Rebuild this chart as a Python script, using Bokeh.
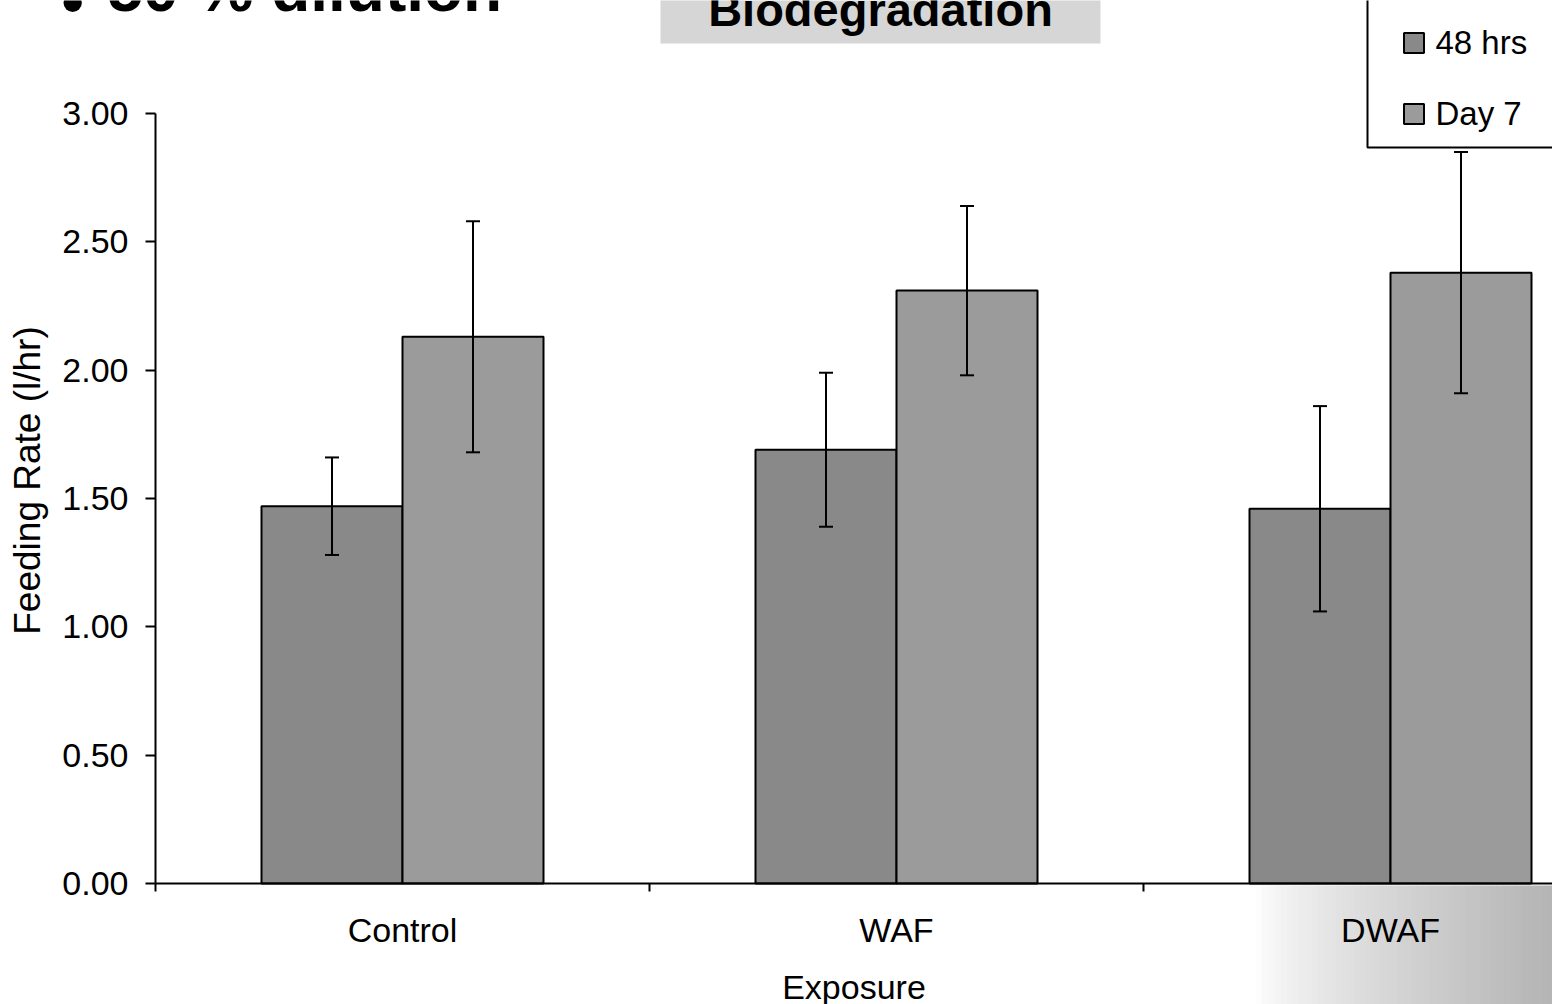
import math
from bokeh.plotting import figure
from bokeh.models import (ColumnDataSource, Range1d, FixedTicker, NumeralTickFormatter,
                          Whisker, TeeHead, Legend, LegendItem, Label, BoxAnnotation)
from bokeh.embed import file_html
from bokeh.resources import INLINE

# ---- data ----
categories = ["Control", "WAF", "DWAF"]
series_names = ["48 hrs", "Day 7"]
rate_48hrs = [1.47, 1.69, 1.46]
err_48hrs = [0.19, 0.30, 0.40]
rate_day7 = [2.13, 2.31, 2.38]
err_day7 = [0.45, 0.33, 0.47]
y_ticks = [0.0, 0.5, 1.0, 1.5, 2.0, 2.5, 3.0]

FONT = "Liberation Sans"
W, H = 1552, 1004
X0, Y0 = 155, 883                 # page pixel of data origin
PX_X = 494.0                      # pixels per category
PX_Y = 770.0 / 3.0                # pixels per unit of y

def px2x(px):   # page x -> data x
    return (px - X0) / PX_X

def py2y(py):   # page y -> data y
    return (Y0 - py) / PX_Y

p = figure(width=W, height=H, output_backend="svg", toolbar_location=None,
           x_range=Range1d(px2x(0), px2x(W)), y_range=Range1d(py2y(H), py2y(0)),
           min_border_left=0, min_border_bottom=0, min_border_top=0, min_border_right=0,
           outline_line_color=None, background_fill_color="white", border_fill_color="white")
p.xgrid.visible = False
p.ygrid.visible = False

# faint slide backdrop in the lower right corner (smooth grey fade)
n_strips = 48
sx0, sx1 = 1255, 1552
step = (sx1 - sx0) / n_strips
for k in range(n_strips):
    t = (k + 0.5) / n_strips
    g = int(round(255 - (255 - 180) * t ** 0.75))
    p.add_layout(BoxAnnotation(left=px2x(sx0 + k * step), right=px2x(sx0 + (k + 1) * step + 0.6),
                               top=py2y(885), bottom=py2y(1010),
                               fill_color=f"#{g:02x}{g:02x}{g:02x}", fill_alpha=1,
                               line_color=None, level="underlay"))

bw = 141.0 / PX_X
idx = list(range(len(categories)))
src48 = ColumnDataSource(dict(
    x=[i + 0.5 - bw / 2 for i in idx], top=rate_48hrs,
    upper=[v + e for v, e in zip(rate_48hrs, err_48hrs)],
    lower=[v - e for v, e in zip(rate_48hrs, err_48hrs)]))
src7 = ColumnDataSource(dict(
    x=[i + 0.5 + bw / 2 for i in idx], top=rate_day7,
    upper=[v + e for v, e in zip(rate_day7, err_day7)],
    lower=[v - e for v, e in zip(rate_day7, err_day7)]))

r48 = p.vbar(x="x", top="top", bottom=0, width=bw, source=src48,
             fill_color="#898989", line_color="black", line_width=2)
r7 = p.vbar(x="x", top="top", bottom=0, width=bw, source=src7,
            fill_color="#9b9b9b", line_color="black", line_width=2)

for s in (src48, src7):
    wk = Whisker(source=s, base="x", upper="upper", lower="lower", dimension="height",
                 line_color="black", line_width=2, level="overlay",
                 upper_head=TeeHead(size=14, line_width=2, line_color="black"),
                 lower_head=TeeHead(size=14, line_width=2, line_color="black"))
    p.add_layout(wk)

# ---- axes (drawn at the data origin) ----
xa = p.xaxis[0]
xa.fixed_location = 0
xa.bounds = (0, 3)
xa.ticker = FixedTicker(ticks=[i + 0.5 for i in idx], minor_ticks=[0, 1, 2, 3])
xa.major_label_overrides = {i + 0.5: c for i, c in zip(idx, categories)}
xa.major_tick_out = 0
xa.major_tick_in = 0
xa.minor_tick_out = 8
xa.minor_tick_in = 0
xa.minor_tick_line_width = 2
xa.minor_tick_line_color = "black"
xa.axis_line_width = 2
xa.axis_line_color = "black"
xa.major_label_text_font = FONT
xa.major_label_text_font_size = "34px"
xa.major_label_text_color = "black"
xa.major_label_standoff = 19
xa.axis_label = "Exposure"
xa.axis_label_text_font = FONT
xa.axis_label_text_font_size = "34px"
xa.axis_label_text_font_style = "normal"
xa.axis_label_text_color = "black"
xa.axis_label_standoff = 16

ya = p.yaxis[0]
ya.fixed_location = 0
ya.bounds = (0, 3)
ya.ticker = FixedTicker(ticks=y_ticks)
ya.formatter = NumeralTickFormatter(format="0.00")
ya.major_tick_out = 10
ya.major_tick_in = 0
ya.major_tick_line_width = 2
ya.minor_tick_line_color = None
ya.axis_line_width = 2
ya.axis_line_color = "black"
ya.major_label_text_font = FONT
ya.major_label_text_font_size = "34px"
ya.major_label_text_color = "black"
ya.major_label_standoff = 17

# y-axis title, centred where the slide had it
p.add_layout(Label(x=px2x(27), y=py2y(480), text="Feeding Rate (l/hr)", text_font=FONT,
                   text_font_size="37px", text_color="black", angle=math.pi / 2,
                   text_align="center", text_baseline="middle"))

# ---- slide decorations ----
p.add_layout(Label(x=px2x(61), y=py2y(1), text="•", text_font=FONT,
                   text_font_size="64px", text_font_style="bold", text_color="black",
                   text_baseline="alphabetic", text_align="left"))
p.add_layout(Label(x=px2x(107), y=py2y(-12), text="50 % dilution", text_font=FONT,
                   text_font_size="64px", text_font_style="bold", text_color="black",
                   text_baseline="alphabetic", text_align="left"))
p.add_layout(BoxAnnotation(left=px2x(660), right=px2x(1100), top=py2y(-20), bottom=py2y(43),
                           fill_color="#d6d6d6", fill_alpha=1, line_color=None, level="annotation"))
p.add_layout(Label(x=px2x(880), y=py2y(9), text="Biodegradation", text_font=FONT,
                   text_font_size="47px", text_font_style="bold", text_color="black",
                   text_baseline="alphabetic", text_align="center"))

# ---- legend ----
p.add_layout(BoxAnnotation(left=px2x(1367), right=px2x(1600), top=py2y(-20), bottom=py2y(147),
                           fill_color="white", fill_alpha=1, line_color="black", line_alpha=1,
                           line_width=2, level="annotation"))
legend = Legend(items=[LegendItem(label=series_names[0], renderers=[r48]),
                       LegendItem(label=series_names[1], renderers=[r7])],
                location=(1400.5, H - 132.5), orientation="vertical",
                border_line_color=None, background_fill_alpha=0, padding=0, margin=0,
                spacing=33, glyph_width=25, glyph_height=25, label_standoff=10,
                label_text_font=FONT, label_text_font_size="33px", label_text_color="black",
                label_height=25)
p.add_layout(legend)

open("out.html", "w").write(file_html(p, INLINE))
